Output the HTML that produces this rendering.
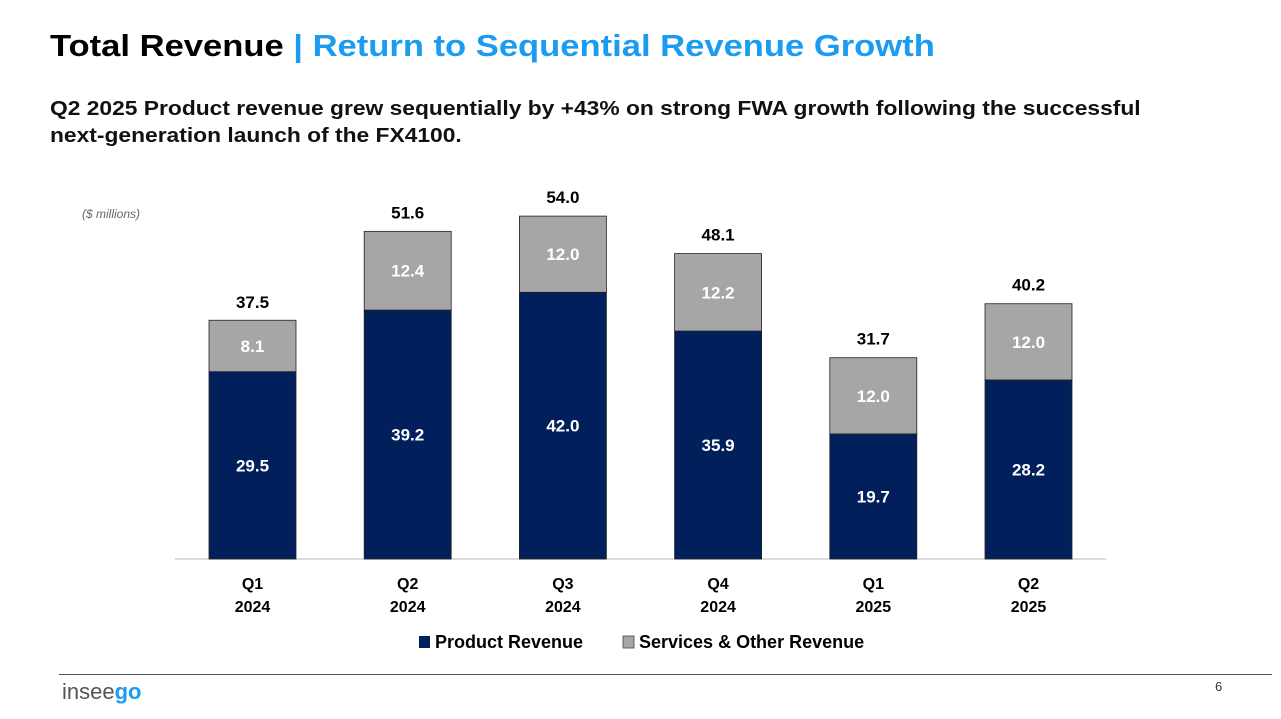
<!DOCTYPE html>
<html><head><meta charset="utf-8"><style>
body{margin:0;width:1281px;height:719px;background:#fff;overflow:hidden;font-family:"Liberation Sans",sans-serif;position:relative}
.t{position:absolute;white-space:nowrap}
</style></head><body>
<div class="t" style="left:50px;top:28px;font-size:31px;font-weight:bold;color:#000;transform:scaleX(1.115);transform-origin:0 0">Total Revenue <span style="color:#1a9cf0"> | Return to Sequential Revenue Growth</span></div>
<div class="t" style="left:50px;top:96px;font-size:20px;font-weight:bold;line-height:27px;color:#111;transform:scaleX(1.14);transform-origin:0 0">Q2 2025 Product revenue grew sequentially by +43% on strong FWA growth following the successful<br>next-generation launch of the FX4100.</div>
<div class="t" style="left:82px;top:207px;font-size:12px;font-style:italic;color:#666">($ millions)</div>
<svg id="chart" width="1281" height="719" style="position:absolute;left:0;top:0"></svg>
<div style="position:absolute;left:59px;top:674px;width:1213px;height:1px;background:#555"></div>
<div class="t" style="left:62px;top:679px;font-size:22px;color:#555">insee<b style="color:#1a9cf0">go</b></div>
<div class="t" style="left:1215px;top:679px;font-size:13px;color:#333">6</div>
<script>
const categories=["Q1|2024","Q2|2024","Q3|2024","Q4|2024","Q1|2025","Q2|2025"];
const productRevenue=[29.5,39.2,42.0,35.9,19.7,28.2];
const servicesRevenue=[8.1,12.4,12.0,12.2,12.0,12.0];
const totals=[37.5,51.6,54.0,48.1,31.7,40.2];
const svg=document.getElementById('chart');const NS='http://www.w3.org/2000/svg';
const base=559,scale=6.35,x0=252.5,step=155.2,bw=87;
const y=v=>base-v*scale;const xc=i=>x0+i*step;
function mk(t,a,txt){const e=document.createElementNS(NS,t);for(const k in a)e.setAttribute(k,a[k]);if(txt!=null)e.textContent=txt;svg.appendChild(e);return e;}
const ax=mk('line',{x1:175,x2:1106,y1:base,y2:base,stroke:'#d0d0d0','stroke-width':1.5});


const F='"Liberation Sans","DejaVu Sans",sans-serif';
categories.forEach((c,i)=>{
 const p=productRevenue[i],s=servicesRevenue[i],tot=totals[i];
 const r1=mk('rect',{x:xc(i)-bw/2,y:y(p),width:bw,height:p*scale,fill:'#001f5b',stroke:'#222','stroke-width':0.8});
 
 
 const r2=mk('rect',{x:xc(i)-bw/2,y:y(p+s),width:bw,height:s*scale,fill:'#a6a6a6',stroke:'#222','stroke-width':0.8});
 
 
 const l1=mk('text',{x:xc(i),y:y(p/2)+6,'text-anchor':'middle','font-size':17,'font-weight':'bold',fill:'#fff','font-family':F},p.toFixed(1));
 
 
 const l2=mk('text',{x:xc(i),y:y(p+s/2)+6,'text-anchor':'middle','font-size':17,'font-weight':'bold',fill:'#fff','font-family':F},s.toFixed(1));
 
 
 const l3=mk('text',{x:xc(i),y:y(tot)-13,'text-anchor':'middle','font-size':17,'font-weight':'bold',fill:'#000','font-family':F},tot.toFixed(1));
 
 
 const [q,yr]=c.split('|');
 const c1=mk('text',{x:xc(i),y:589,'text-anchor':'middle','font-size':16,'font-weight':'bold',fill:'#000','font-family':F},q);
 
 
 const c2=mk('text',{x:xc(i),y:612,'text-anchor':'middle','font-size':16,'font-weight':'bold',fill:'#000','font-family':F},yr);
 
 
});
const lg1=mk('rect',{x:419,y:636,width:11,height:12,fill:'#001f5b'});


const lt1=mk('text',{x:435,y:648,'font-size':18,fill:'#000','font-family':F,'font-weight':'bold'},'Product Revenue');


const lg2=mk('rect',{x:623,y:636,width:11,height:12,fill:'#a6a6a6',stroke:'#444','stroke-width':0.8});


const lt2=mk('text',{x:639,y:648,'font-size':18,fill:'#000','font-family':F,'font-weight':'bold'},'Services & Other Revenue');


</script>
</body></html>
